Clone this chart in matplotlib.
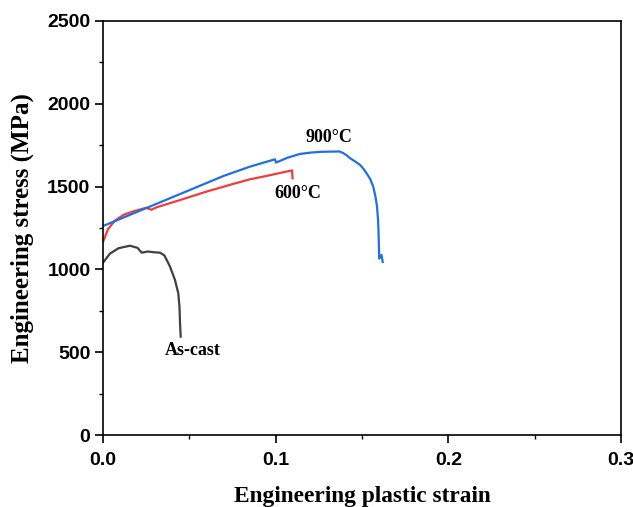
import matplotlib.pyplot as plt
from matplotlib.ticker import MultipleLocator

# As-cast
strain_cast = [0.0, 0.004, 0.009, 0.0156, 0.020, 0.0224, 0.026, 0.030, 0.033, 0.0355,
               0.0369, 0.0388, 0.0417, 0.0436, 0.0443, 0.0446, 0.0450]
stress_cast = [1040, 1095, 1128, 1143, 1130, 1101, 1108, 1103, 1101, 1085,
               1057, 1017, 936, 856, 775, 680, 594]

# 600 C
strain_600 = [0.0, 0.003, 0.007, 0.012, 0.018, 0.025, 0.028, 0.031, 0.045, 0.060,
              0.075, 0.0851, 0.095, 0.1095, 0.1098]
stress_600 = [1165, 1245, 1295, 1330, 1352, 1372, 1360, 1375, 1420, 1470,
              1515, 1544, 1565, 1598, 1550]

# 900 C
strain_900 = [0.0, 0.010, 0.025, 0.040, 0.055, 0.070, 0.085, 0.0996, 0.1002, 0.107,
              0.114, 0.120, 0.126, 0.131, 0.137, 0.139, 0.141, 0.143, 0.146, 0.149,
              0.151, 0.153, 0.1548, 0.1565, 0.1578, 0.1587, 0.1593, 0.1596, 0.1598,
              0.1600, 0.1613, 0.1620]
stress_900 = [1262, 1305, 1370, 1435, 1500, 1565, 1620, 1665, 1645, 1675,
              1697, 1705, 1710, 1711, 1712, 1703, 1690, 1672, 1652, 1630,
              1605, 1575, 1545, 1500, 1440, 1380, 1300, 1220, 1140,
              1065, 1087, 1045]

plt.rcParams["font.family"] = ["Liberation Sans", "DejaVu Sans"]

fig = plt.figure(figsize=(6.33, 5.07), dpi=100, facecolor="white")
ax = fig.add_axes([0.1627, 0.142, 0.8183, 0.8166])

ax.plot(strain_cast, stress_cast, color="#404040", lw=1.6)
ax.plot(strain_600, stress_600, color="#f23c3c", lw=1.6)
ax.plot(strain_900, stress_900, color="#1e6fe6", lw=1.6)

serif = ["Liberation Serif", "DejaVu Serif"]
ax.text(0.131, 1795, "900°C", family=serif, weight="bold", fontsize=13, ha="center", va="center")
ax.text(0.113, 1460, "600°C", family=serif, weight="bold", fontsize=13, ha="center", va="center")
ax.text(0.0518, 512, "As-cast", family=serif, weight="bold", fontsize=13, ha="center", va="center")

ax.set_xlim(0, 0.3)
ax.set_ylim(0, 2500)
ax.xaxis.set_major_locator(MultipleLocator(0.1))
ax.xaxis.set_minor_locator(MultipleLocator(0.05))
ax.yaxis.set_major_locator(MultipleLocator(500))
ax.yaxis.set_minor_locator(MultipleLocator(250))
ax.tick_params(which="major", direction="out", length=6, width=1.2, labelsize=14, pad=3)
ax.tick_params(which="minor", direction="out", length=3, width=1.0)
ax.tick_params(axis="x", which="major", pad=6)
for lab in ax.get_xticklabels() + ax.get_yticklabels():
    lab.set_fontweight("bold")
for s in ax.spines.values():
    s.set_linewidth(1.2)

ax.set_xlabel("Engineering plastic strain", family=serif, weight="bold", fontsize=16.8, labelpad=12.5)
ax.set_ylabel("Engineering stress (MPa)", family=serif, weight="bold", fontsize=18, labelpad=9.5)

fig.savefig("out.png", dpi=100)
